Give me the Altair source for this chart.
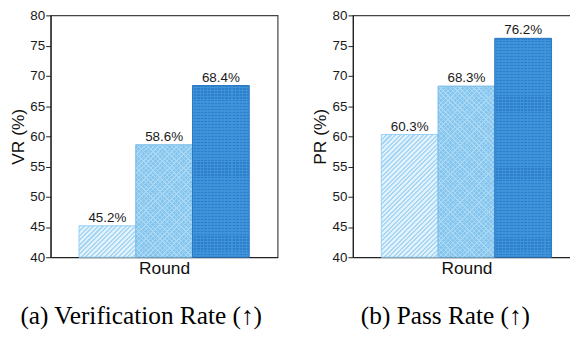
import math
import altair as alt
import pandas as pd

# ---- data ----
rounds = ["Round 1", "Round 2", "Round 3"]
vr_values = [45.2, 58.6, 68.4]
pr_values = [60.3, 68.3, 76.2]
y_ticks = [40, 45, 50, 55, 60, 65, 70, 75, 80]
panel_titles = ["VR (%)", "PR (%)"]
captions = ["(a) Verification Rate (\u2191)", "(b) Pass Rate (\u2191)"]

# ---- layout / style ----
W, H = 229, 244
Y_MIN, Y_MAX = 40, 80
BAR_W = W / 4.0
SANS = "Liberation Sans"
SERIF = "Liberation Serif"


def stripe_stops(n, line, base, frac):
    s = []
    for i in range(n):
        o0 = i / n
        o1 = (i + frac) / n
        o2 = (i + 1) / n
        s += [{"offset": o0, "color": line}, {"offset": o1, "color": line},
              {"offset": o1, "color": base}, {"offset": o2, "color": base}]
    return s


def diag(w, h, period, line, base, frac, forward=True):
    k = (w + h) / (w * w + h * h)
    n = max(1, int(round((w + h) / (math.sqrt(2) * period))))
    if forward:  # '/' lines
        g = {"x1": 0, "y1": 0, "x2": w * k, "y2": h * k}
    else:  # '\' lines
        g = {"x1": 0, "y1": 1, "x2": w * k, "y2": 1 - h * k}
    g.update({"gradient": "linear", "stops": stripe_stops(n, line, base, frac)})
    return g


def straight(w, h, period, line, base, frac, horizontal=True):
    if horizontal:
        n = max(1, int(round(h / period)))
        g = {"x1": 0, "y1": 0, "x2": 0, "y2": 1}
    else:
        n = max(1, int(round(w / period)))
        g = {"x1": 0, "y1": 0, "x2": 1, "y2": 0}
    g.update({"gradient": "linear", "stops": stripe_stops(n, line, base, frac)})
    return g


def bar_fills(idx, value):
    h = (value - Y_MIN) / (Y_MAX - Y_MIN) * H
    w = BAR_W
    if idx == 0:
        return "#98cff2", [diag(w, h, 3.3, "#a7d7f5", "#e2f2fd", 0.45)]
    if idx == 1:
        return "#78bde9", [
            diag(w, h, 3.4, "#a9d8f5", "#86c5ee", 0.28),
            diag(w, h, 3.4, "rgba(169,216,245,1)", "rgba(169,216,245,0)", 0.28, forward=False),
        ]
    return "#2a78c3", [
        straight(w, h, 3.0, "#2d7fcb", "#3f93db", 0.4),
        straight(w, h, 3.6, "rgba(63,147,219,0.85)", "rgba(63,147,219,0)", 0.3, horizontal=False),
    ]


def panel(values, ytitle, caption, dx):
    df = pd.DataFrame({"round": rounds, "value": values})
    x = alt.X("round:N", sort=rounds, title="Round",
              scale=alt.Scale(domain=rounds, paddingInner=0, paddingOuter=0.5),
              axis=alt.Axis(labels=False, ticks=False, titlePadding=2,
                            titleFontSize=17.5))
    y = alt.Y("value:Q", title=ytitle,
              scale=alt.Scale(domain=[Y_MIN, Y_MAX], zero=False, nice=False),
              axis=alt.Axis(values=y_ticks, tickSize=5, labelPadding=1,
                            titlePadding=2.5, titleFontSize=17.5, labelFontSize=13.5,
                            grid=False))
    layers = []
    for i, r in enumerate(rounds):
        stroke, fills = bar_fills(i, values[i])
        base = alt.Chart(df).transform_filter(alt.datum["round"] == r)
        for f in fills:
            layers.append(base.mark_bar(fill=f, strokeWidth=0).encode(x=x, y=y, y2=alt.datum(Y_MIN)))
        layers.append(base.mark_bar(fill="transparent", stroke=stroke, strokeWidth=1)
                      .encode(x=x, y=y, y2=alt.datum(Y_MIN)))
    text = (alt.Chart(df)
            .transform_calculate(label="format(datum.value, '.1f') + '%'")
            .mark_text(baseline="alphabetic", dy=-4, fontSize=13.5, font=SANS, color="#1a1a1a")
            .encode(x=x, y=y, text="label:N"))
    layers.append(text)
    return alt.layer(*layers).properties(
        width=W, height=H,
        title=alt.TitleParams(caption, orient="bottom", anchor="start", frame="group",
                              font=SERIF, fontSize=25.5, fontWeight="normal",
                              color="#000000", offset=28, dx=dx),
    )


left = panel(vr_values, panel_titles[0], captions[0], -30.5)
right = panel(pr_values, panel_titles[1], captions[1], 8)

chart = (alt.hconcat(left, right, spacing=32)
         .properties(padding={"left": 0, "top": -2, "right": -11, "bottom": -2})
         .configure_view(stroke="#444444", strokeWidth=1.2)
         .configure_axis(labelFont=SANS, titleFont=SANS, labelColor="#1a1a1a",
                         titleColor="#111111", titleFontWeight="normal",
                         domainColor="#222222", domainWidth=1.2, tickColor="#222222",
                         tickWidth=1)
         .configure_concat(spacing=32))

chart.save("out.html", embed_options={"renderer": "svg", "actions": False})
